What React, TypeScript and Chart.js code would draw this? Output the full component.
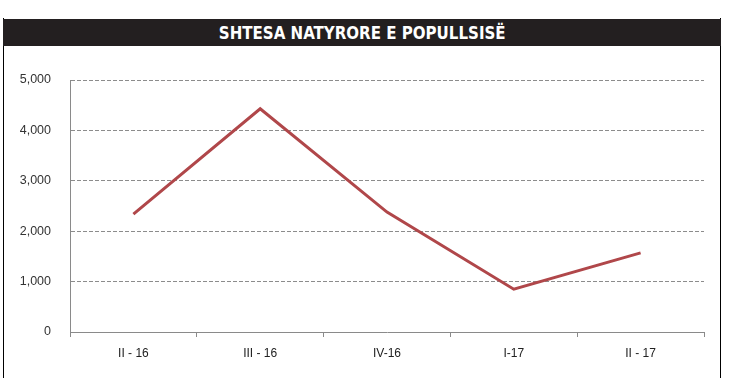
import React, { useEffect, useRef } from "react";
import { Chart, registerables } from "chart.js";

Chart.register(...registerables);

const TITLE = "SHTESA NATYRORE E POPULLSISË";
const categories = ["II - 16", "III - 16", "IV-16", "I-17", "II - 17"];
const values = [2340, 4430, 2380, 850, 1570];
const yTicks = [0, 1000, 2000, 3000, 4000, 5000];

export default function App() {
  const ref = useRef<HTMLCanvasElement | null>(null);

  useEffect(() => {
    if (!ref.current) return;
    const chart = new Chart(ref.current, {
      type: "line",
      data: {
        labels: categories,
        datasets: [
          {
            data: values,
            borderColor: "#b0474a",
            borderWidth: 3,
            pointRadius: 0,
            tension: 0,
            fill: false,
          },
        ],
      },
      options: {
        animation: false,
        responsive: false,
        maintainAspectRatio: false,
        layout: { padding: { top: 35, right: 16, left: 0, bottom: 0 } },
        plugins: { legend: { display: false }, tooltip: { enabled: false } },
        scales: {
          x: {
            offset: true,
            afterFit: (s: any) => {
              s.height = 46;
            },
            grid: {
              offset: true,
              drawOnChartArea: false,
              drawTicks: true,
              tickLength: 5,
              tickColor: "#8a8a8a",
            },
            border: { display: true, color: "#8a8a8a", width: 1 },
            ticks: {
              padding: 9,
              color: "#222",
              font: { family: "'Liberation Sans', Arial, sans-serif", size: 12 },
            },
          },
          y: {
            min: 0,
            max: 5000,
            afterFit: (s: any) => {
              s.width = 66;
            },
            afterBuildTicks: (s: any) => {
              s.ticks = yTicks.map((v) => ({ value: v }));
            },
            grid: {
              drawTicks: false,
              color: (ctx: any) => (ctx.tick && ctx.tick.value === 0 ? "rgba(0,0,0,0)" : "#8c8c8c"),
              lineWidth: 1,
            },
            border: { display: true, color: "#8a8a8a", width: 1, dash: [4, 2] },
            ticks: {
              padding: 19,
              color: "#333",
              font: { family: "'Liberation Sans', Arial, sans-serif", size: 12.5 },
              callback: (v: any) => Number(v).toLocaleString("en-US"),
            },
          },
        },
      },
    });
    return () => chart.destroy();
  }, []);

  return (
    <div
      style={{
        position: "fixed",
        left: 0,
        top: 0,
        width: 741,
        height: 378,
        background: "#fff",
        overflow: "hidden",
      }}
    >
      <div
        style={{
          position: "absolute",
          left: 3,
          top: 18,
          width: 718,
          height: 360,
          borderLeft: "1px solid #000",
          borderRight: "1px solid #000",
          boxSizing: "border-box",
        }}
      />
      <div
        style={{
          position: "absolute",
          left: 3,
          top: 19,
          width: 718,
          height: 27,
          background: "#231f20",
          color: "#fff",
          display: "flex",
          alignItems: "center",
          justifyContent: "center",
        }}
      >
        <span
          style={{
            display: "inline-block",
            fontFamily: "'DejaVu Sans Condensed', 'Liberation Sans Narrow', sans-serif",
            fontWeight: 700,
            fontSize: 18,
            transform: "scaleX(0.93)",
            whiteSpace: "nowrap",
          }}
        >
          {TITLE}
        </span>
      </div>
      <canvas
        ref={ref}
        width={716}
        height={333}
        style={{ position: "absolute", left: 4, top: 45, width: 716, height: 333 }}
      />
    </div>
  );
}
